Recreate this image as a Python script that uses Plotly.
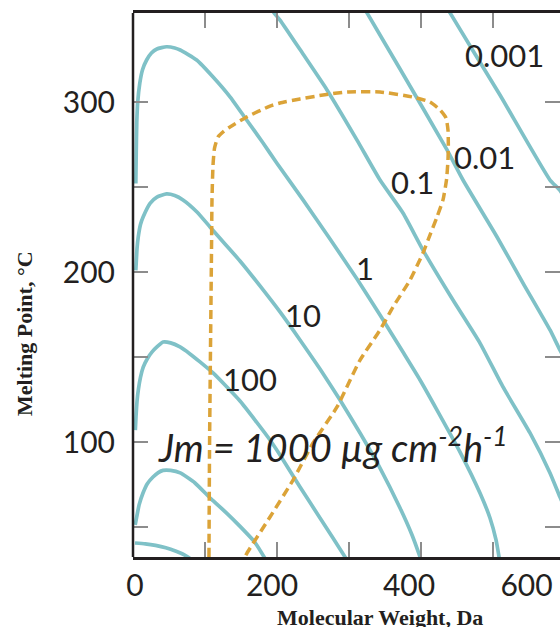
import plotly.graph_objects as go

# ---- data (molecular weight, Da / melting point, degC) ----
# contour Jm = 10000
mw_c1 = [0, 15, 30, 45, 60, 72, 82]
mp_c1 = [40.6, 40.1, 39.2, 37.8, 35.7, 33.6, 31.0]
# contour Jm = 1000
mw_c2 = [0.3, 2.5, 6, 11.7, 18, 26.3, 34, 41, 52, 66, 87.6, 111, 133, 153, 175, 192]
mp_c2 = [51.2, 55.9, 63, 70, 75.5, 79.4, 82, 83.3, 83.3, 81.8, 75.9, 66.5, 58.5, 50.5, 41, 30]
# contour Jm = 100
mw_c3 = [0.5, 1.5, 3, 5, 8, 12, 18, 25, 32, 41, 52, 65.7, 80.3, 94.9, 113.9, 132.8, 153.3, 175.2, 197.1,
         211.7, 240.9, 270.1, 306.6, 313.9]
mp_c3 = [107, 115, 124, 131, 138, 144, 149, 153, 155.9, 158.8, 158.3, 155.9, 151.8, 147.1, 140.6, 132.9, 124.1,
         112.9, 101.2, 92.4, 73.5, 55.3, 32.4, 27.6]
# contour Jm = 10
mw_c4 = [1.2, 2, 3, 4.9, 8, 12, 22, 32, 46, 58, 70.1, 90.5, 109.5, 131.4, 153.3, 182.5, 211.7, 240.9, 270.1,
         299.3, 328.5, 357.7, 386.9, 404.4, 416.1, 424.8]
mp_c4 = [201, 207, 214, 221, 228, 232.5, 240.4, 244.1, 245.9, 245, 242.4, 235.3, 226.5, 216.5, 206.5, 191.8,
         176.5, 160, 142.9, 124.7, 105.3, 84.7, 61.2, 45.3, 32.4, 21.8]
# contour Jm = 1
mw_c5 = [1.2, 1.8, 2.6, 4, 7, 11, 17, 24, 32, 46, 58, 66, 90, 114, 139, 163, 187, 206.9, 245.3, 284.7, 324.1,
         357.7, 391.2, 416.1, 440.9, 474.5, 503.6, 518.2, 527, 531.4, 534.3]
mp_c5 = [252, 270, 288, 300, 311, 319, 324.7, 328.8, 331.2, 332.5, 331.8, 330.6, 324.7, 314.7, 302.9, 289.4,
         275.9, 264.1, 242.4, 219.4, 195.9, 174.7, 152.9, 136.5, 118.8, 94.1, 70, 55.3, 42.4, 32.4, 24.7]
# contour Jm = 0.1
mw_c6 = [194.2, 203, 211.7, 245.3, 280.3, 324.1, 357.7, 391.2, 420.4, 464.2, 503.6, 537.2, 576.6, 605.8, 620.4, 635]
mp_c6 = [358.2, 352.4, 348.2, 328.2, 307.1, 277.6, 254.1, 234.7, 212.9, 183.5, 158.2, 132.4, 105.3, 81.8, 67.6, 54.1]
# contour Jm = 0.01
mw_c7 = [328.5, 338.7, 386.9, 455.5, 478.8, 528.5, 566.4, 605.8, 620.4, 635]
mp_c7 = [360, 352.4, 319.4, 271.8, 254.1, 220.6, 193.5, 165.9, 154.1, 143.5]
# contour Jm = 0.001
mw_c8 = [449.6, 459.9, 532.8, 605.8, 620.4, 635]
mp_c8 = [360, 352.4, 304.1, 254.1, 248, 238]

# dashed boundary of the drug region
mw_region = [108, 108.8, 110.2, 111.7, 112.4, 113.9, 116.1, 121.2, 129.9, 138.7, 163.1, 197.1, 211.7, 240.9,
             274.5, 309.5, 357.7, 405.8, 430.7, 445.3, 454, 456.9, 457.4, 456.9, 454.7, 449.6, 440.9,
             430.7, 420.4, 401.5, 376.6, 357.7, 328.5, 294.9, 259.9, 230.7, 197.1, 163.5, 159.1]
mp_region = [32.4, 95.3, 154.1, 212.9, 242.4, 262.9, 272.9, 279.4, 282.9, 285.3, 291.2, 297.6, 299.4, 301.8,
             304.1, 305.9, 305.9, 302.9, 300, 295.3, 290.6, 283.5, 274.7, 265.9, 254.1, 242.4, 232.4,
             221.8, 211.2, 195.3, 179.4, 165.9, 148.2, 120.6, 99.4, 77.6, 55.9, 34.7, 31.2]

contours = [(mw_c1, mp_c1), (mw_c2, mp_c2), (mw_c3, mp_c3), (mw_c4, mp_c4),
            (mw_c5, mp_c5), (mw_c6, mp_c6), (mw_c7, mp_c7), (mw_c8, mp_c8)]

# contour labels
label_text = ["0.001", "0.01", "0.1", "1", "10", "100"]
label_mw = [540.1, 509.5, 405.1, 335.8, 245.7, 167.9]
label_mp = [327.6, 267.4, 253.2, 202.6, 174.7, 137.1]
jm_text = "<i>Jm = 1000 µg cm<sup>-2</sup>h<sup>-1</sup></i>"
jm_mw, jm_mp = 289, 98.3

# axis ticks
x_tick_vals = [0, 200, 400, 571.5]
x_tick_text = ["0", "200", "400", "600"]
x_minor_vals = [102.2, 206.6, 312.4, 417.5, 522.6]
y_tick_vals = [100, 200, 300]
y_tick_text = ["100", "200", "300"]
y_minor_vals = [50, 150, 250]

TEAL = "#7fc1c7"
GOLD = "#dba338"
INK = "#231f20"
TICK = "#8c8c8c"

fig = go.Figure()
for mw, mp in contours:
    fig.add_trace(go.Scatter(x=mw, y=mp, mode="lines",
                             line=dict(color=TEAL, width=3.7, shape="spline", smoothing=0.5),
                             hoverinfo="skip"))
fig.add_trace(go.Scatter(x=mw_region, y=mp_region, mode="lines",
                         line=dict(color=GOLD, width=3.5, dash="9px,5px", shape="spline", smoothing=0.5),
                         hoverinfo="skip"))

for t, xv, yv in zip(label_text, label_mw, label_mp):
    fig.add_annotation(x=xv, y=yv, text=t, showarrow=False, xanchor="center", yanchor="middle",
                       font=dict(family="Lato", size=31, color=INK))
fig.add_annotation(x=jm_mw, y=jm_mp, text=jm_text, showarrow=False, xanchor="center", yanchor="middle",
                   font=dict(family="Lato", size=38, color=INK))

serif = dict(family="Liberation Serif", size=22, color=INK)
fig.add_annotation(xref="paper", yref="paper", x=(380 - 133) / 427, y=(557 - 617) / 544,
                   text="<b>Molecular Weight, Da</b>", showarrow=False, xanchor="center", yanchor="middle", font=serif)
fig.add_annotation(xref="paper", yref="paper", x=(24 - 133) / 427, y=(557 - 334) / 544, textangle=-90,
                   text="<b>Melting Point, °C</b>", showarrow=False, xanchor="center", yanchor="middle", font=serif)

# left axis line (no right border in the reference)
fig.add_shape(type="line", xref="paper", yref="paper", x0=0, x1=0, y0=0, y1=1,
              line=dict(color=INK, width=2.5))

tickfont = dict(family="Lato", size=30, color=INK)
fig.update_layout(
    width=560, height=627, autosize=False,
    margin=dict(l=133, r=0, t=13, b=70, pad=0),
    paper_bgcolor="white", plot_bgcolor="white", showlegend=False,
    xaxis=dict(range=[-2.9, 620.4], showgrid=False, zeroline=False, showline=True, linecolor=INK, linewidth=2.5,
               mirror="ticks", tickmode="array", tickvals=x_tick_vals, ticktext=x_tick_text, ticks="",
               tickfont=tickfont, ticklabelstandoff=0,
               minor=dict(tickmode="array", tickvals=x_minor_vals, ticks="inside", ticklen=15, tickwidth=1.5,
                          tickcolor=TICK, showgrid=False)),
    yaxis=dict(range=[32.35, 352.35], showgrid=False, zeroline=False, showline=False, mirror="ticks",
               tickmode="array", tickvals=y_tick_vals, ticktext=y_tick_text, ticks="inside", ticklen=15,
               tickwidth=1.5, tickcolor=TICK, tickfont=tickfont, ticklabelstandoff=17,
               minor=dict(tickmode="array", tickvals=y_minor_vals, ticks="inside", ticklen=15, tickwidth=1.5,
                          tickcolor=TICK, showgrid=False)),
)

# remove the browser's default 8px body margin so the 560x627 figure fills the window exactly
fig.write_html("out.html", config={"displayModeBar": False},
               post_script="document.body.style.margin='0';document.body.style.overflow='hidden';")
